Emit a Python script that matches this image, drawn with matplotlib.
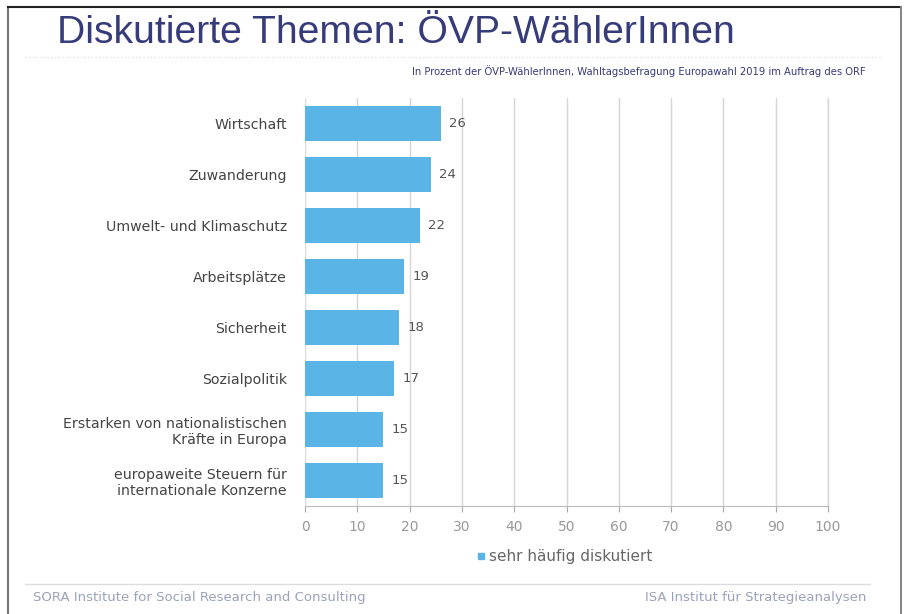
import numpy as np
import matplotlib
matplotlib.use('Agg')
import matplotlib.pyplot as plt
from matplotlib.patches import Rectangle
from matplotlib.lines import Line2D

plt.rcParams['font.family'] = ['DejaVu Sans']

# Daten
themen = ['Wirtschaft', 'Zuwanderung', 'Umwelt- und Klimaschutz', 'Arbeitsplätze',
          'Sicherheit', 'Sozialpolitik',
          'Erstarken von nationalistischen\nKräfte in Europa',
          'europaweite Steuern für\ninternationale Konzerne']
werte = [26, 24, 22, 19, 18, 17, 15, 15]
x_ticks = list(range(0, 101, 10))

titel = 'Diskutierte Themen: ÖVP-WählerInnen'
untertitel = 'In Prozent der ÖVP-WählerInnen, Wahltagsbefragung Europawahl 2019 im Auftrag des ORF'
legende = 'sehr häufig diskutiert'
fuss_links = 'SORA Institute for Social Research and Consulting'
fuss_rechts = 'ISA Institut für Strategieanalysen'

balken_farbe = '#5bb4e6'
dunkelblau = '#363b7a'

fig = plt.figure(figsize=(9.06, 6.14), dpi=100)
fig.patch.set_facecolor('white')

# Rahmen
fig.add_artist(Line2D([8/906, 8/906], [0, 1 - 7/614], color='#777777', lw=1.5))
fig.add_artist(Line2D([8/906, 901/906], [1 - 7/614, 1 - 7/614], color='#222222', lw=1.5))
fig.add_artist(Line2D([901/906, 901/906], [0, 1 - 7/614], color='#888888', lw=1.5))

ax = fig.add_axes([305/906, 1 - 506/614, 523/906, 408/614])
y = np.arange(len(themen))
ax.barh(y, werte, height=0.7, color=balken_farbe, zorder=3)
for yi, w in zip(y, werte):
    ax.text(w + 1.6, yi, str(w), va='center', ha='left', fontsize=9.5, color='#555555')

ax.set_xlim(0, 100)
ax.set_ylim(len(themen) - 0.5, -0.5)
ax.set_xticks(x_ticks)
ax.set_xticklabels([str(t) for t in x_ticks], fontsize=10, color='#999999')
ax.set_yticks(y)
ax.set_yticklabels(themen, fontsize=10.2, color='#444444', linespacing=1.15)
ax.tick_params(axis='y', length=0, pad=13)
ax.tick_params(axis='x', length=4, color='#aaaaaa', pad=6)
ax.grid(axis='x', color='#d6d6d6', lw=1, zorder=0)
ax.axvline(100, color='#d6d6d6', lw=1, zorder=0, clip_on=False)
for s in ['top', 'right']:
    ax.spines[s].set_visible(False)
ax.spines['left'].set_color('#dddddd')
ax.spines['bottom'].set_color('#bbbbbb')

# Titel
fig.text(57/906, 1 - 33/614, titel, fontsize=28.2, color=dunkelblau, va='center', ha='left',
         family='Liberation Sans')
fig.add_artist(Line2D([25/906, 880/906], [1 - 57/614, 1 - 57/614], color='#e4e4e4', lw=1, ls=':'))
fig.text(866/906, 1 - 71/614, untertitel, fontsize=7.2, color=dunkelblau, va='center', ha='right')

# Legende
fig.add_artist(Rectangle((478/906, 1 - 559/614), 6/906, 6/614, color=balken_farbe))
fig.text(489/906, 1 - 556/614, legende, fontsize=11, color='#666666', va='center', ha='left')

# Fusszeile
fig.add_artist(Line2D([25/906, 870/906], [1 - 584/614, 1 - 584/614], color='#dddddd', lw=1))
fig.text(33/906, 1 - 598/614, fuss_links, fontsize=9.5, color='#9aa2bd', va='center', ha='left')
fig.text(866/906, 1 - 598/614, fuss_rechts, fontsize=9.5, color='#9aa2bd', va='center', ha='right')

fig.savefig('out.png', dpi=100)
